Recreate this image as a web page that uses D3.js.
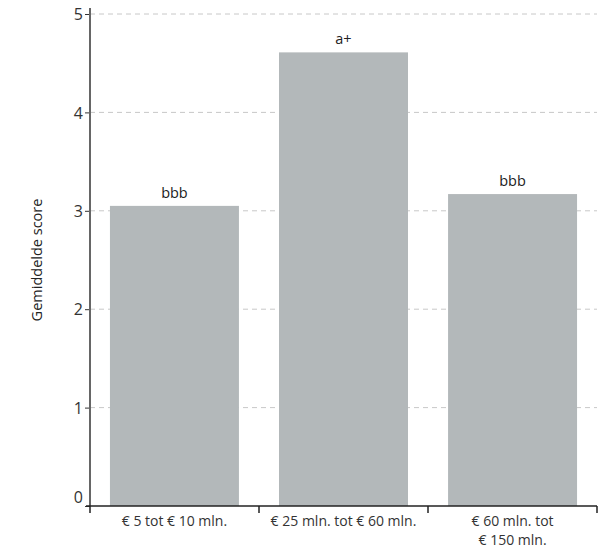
<!DOCTYPE html>
<html>
<head>
<meta charset="utf-8">
<script src="https://cdn.jsdelivr.net/npm/d3@7"></script>
<style>
  html, body { margin: 0; padding: 0; background: #fff; }
  svg { display: block; }
</style>
</head>
<body>
<svg id="chart" width="611" height="549"></svg>
<script>
// Average score per revenue class
const categories = ["€ 5 tot € 10 mln.", "€ 25 mln. tot € 60 mln.", "€ 60 mln. tot\n€ 150 mln."];
const scores = [3.05, 4.61, 3.17];
const ratings = ["bbb", "a+", "bbb"];
const yTicks = [0, 1, 2, 3, 4, 5];

const svg = d3.select("#chart");
const margin = { left: 90, right: 14, top: 14, bottom: 43 };
const W = 611, H = 549;

const x = d3.scaleBand()
  .domain(categories)
  .range([margin.left, W - margin.right])
  .paddingInner(0.237)
  .paddingOuter(0.118);

const y = d3.scaleLinear()
  .domain([0, 5])
  .range([H - margin.bottom, margin.top]);

const font = "Open Sans, sans-serif";

// dashed gridlines
svg.append("g")
  .selectAll("line")
  .data(yTicks.filter(d => d > 0))
  .join("line")
  .attr("x1", margin.left)
  .attr("x2", W - margin.right)
  .attr("y1", d => y(d))
  .attr("y2", d => y(d))
  .attr("stroke", "#c8c8c8")
  .attr("stroke-width", 1)
  .attr("stroke-dasharray", "5,4");

// bars
svg.append("g")
  .selectAll("rect")
  .data(categories)
  .join("rect")
  .attr("x", d => x(d))
  .attr("width", x.bandwidth())
  .attr("y", (d, i) => y(scores[i]))
  .attr("height", (d, i) => y(0) - y(scores[i]))
  .attr("fill", "#b3b8ba");

// rating labels above bars
svg.append("g")
  .selectAll("text")
  .data(categories)
  .join("text")
  .attr("x", d => x(d) + x.bandwidth() / 2)
  .attr("y", (d, i) => y(scores[i]) - 8)
  .attr("text-anchor", "middle")
  .attr("font-family", font)
  .attr("font-size", 14.5)
  .attr("fill", "#222")
  .text((d, i) => ratings[i]);

// y axis
const yAxis = svg.append("g")
  .attr("transform", `translate(${margin.left},0)`)
  .call(d3.axisLeft(y).tickValues(yTicks).tickFormat(d3.format("d")).tickSize(5).tickSizeOuter(0));
yAxis.select(".domain").remove();
yAxis.append("line")
  .attr("x1", 0).attr("x2", 0)
  .attr("y1", 8).attr("y2", y(0))
  .attr("stroke", "#666")
  .attr("stroke-width", 2);
yAxis.selectAll(".tick line").attr("stroke", "#333");
yAxis.selectAll(".tick text")
  .attr("font-family", font)
  .attr("font-size", 16)
  .attr("fill", "#333")
  .attr("x", -7)
  .attr("dy", d => d === 0 ? "-0.25em" : "0.35em");

// x axis with ticks at category boundaries
const xg = svg.append("g").attr("transform", `translate(0,${y(0)})`);
xg.append("line")
  .attr("x1", margin.left - 4).attr("x2", W - margin.right)
  .attr("y1", 0).attr("y2", 0)
  .attr("stroke", "#222").attr("stroke-width", 1.5);
const bounds = d3.range(categories.length + 1).map(i => margin.left + i * (W - margin.left - margin.right) / categories.length);
xg.selectAll(".bt")
  .data(bounds)
  .join("line")
  .attr("x1", d => d).attr("x2", d => d)
  .attr("y1", 0).attr("y2", 7)
  .attr("stroke", "#222").attr("stroke-width", 1.5);

xg.selectAll(".lbl")
  .data(categories)
  .join("text")
  .attr("text-anchor", "middle")
  .attr("font-family", font)
  .attr("font-size", 14)
  .attr("fill", "#333")
  .each(function (d) {
    const t = d3.select(this);
    d.split("\n").forEach((line, j) => {
      t.append("tspan")
        .attr("x", x(d) + x.bandwidth() / 2)
        .attr("y", 19.5 + j * 19.5)
        .text(line);
    });
  });

// y axis title
svg.append("text")
  .attr("transform", `translate(42,${y(2.5)}) rotate(-90)`)
  .attr("text-anchor", "middle")
  .attr("font-family", font)
  .attr("font-size", 14.5)
  .attr("fill", "#222")
  .text("Gemiddelde score");
</script>
</body>
</html>
